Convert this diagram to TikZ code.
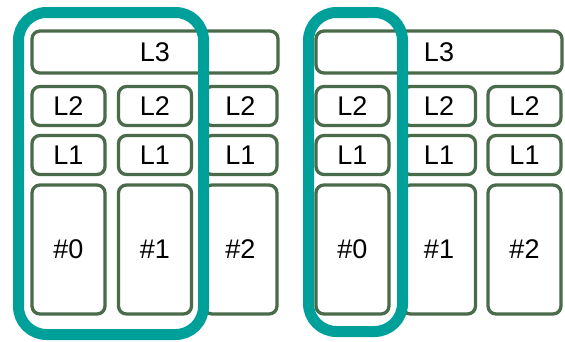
\documentclass[tikz,border=0pt]{standalone}
\usepackage{fontspec}
\setmainfont{Liberation Sans}
\usepackage{xcolor}
\usepackage{tikz}
\usetikzlibrary{positioning}

\definecolor{boxgreen}{HTML}{4A6B4A}
\definecolor{groupteal}{HTML}{00A09A}

\begin{document}
\begin{tikzpicture}[
    x=1pt, y=-1pt,
    layer/.style={rectangle, rounded corners=8pt, draw=boxgreen, line width=3.3pt, fill=white, inner sep=0pt, font=\fontsize{27}{27}\selectfont},
    cell/.style={layer, minimum width=73pt, minimum height=39pt},
    top/.style={layer, minimum width=246pt, minimum height=42pt},
    core/.style={layer, minimum width=73pt, minimum height=129pt},
    group/.style={draw=groupteal, line width=11pt, rounded corners=28pt}
]
\useasboundingbox (0,0) rectangle (565,341);

% Left group
\node[top] (l3a) at (155, 52) {L3};
\node[cell] (l2a0) at (68.5, 106) {L2};
\node[cell] (l2a1) at (155, 106) {L2};
\node[cell] (l2a2) at (240.5, 106) {L2};
\node[cell] (l1a0) at (68.5, 155) {L1};
\node[cell] (l1a1) at (155, 155) {L1};
\node[cell] (l1a2) at (240.5, 155) {L1};
\node[core] (ca0) at (68.5, 249.5) {\#0};
\node[core] (ca1) at (155, 249.5) {\#1};
\node[core] (ca2) at (240.5, 249.5) {\#2};

% Right group
\node[top] (l3b) at (439, 52) {L3};
\node[cell] (l2b0) at (352.5, 106) {L2};
\node[cell] (l2b1) at (439, 106) {L2};
\node[cell] (l2b2) at (524.5, 106) {L2};
\node[cell] (l1b0) at (352.5, 155) {L1};
\node[cell] (l1b1) at (439, 155) {L1};
\node[cell] (l1b2) at (524.5, 155) {L1};
\node[core] (cb0) at (352.5, 249.5) {\#0};
\node[core] (cb1) at (439, 249.5) {\#1};
\node[core] (cb2) at (524.5, 249.5) {\#2};

% Groupings
\draw[group] (18.5, 12.5) rectangle (203.5, 334.5);
\draw[group] (308.5, 12.5) rectangle (402.5, 331.5);

\end{tikzpicture}
\end{document}
